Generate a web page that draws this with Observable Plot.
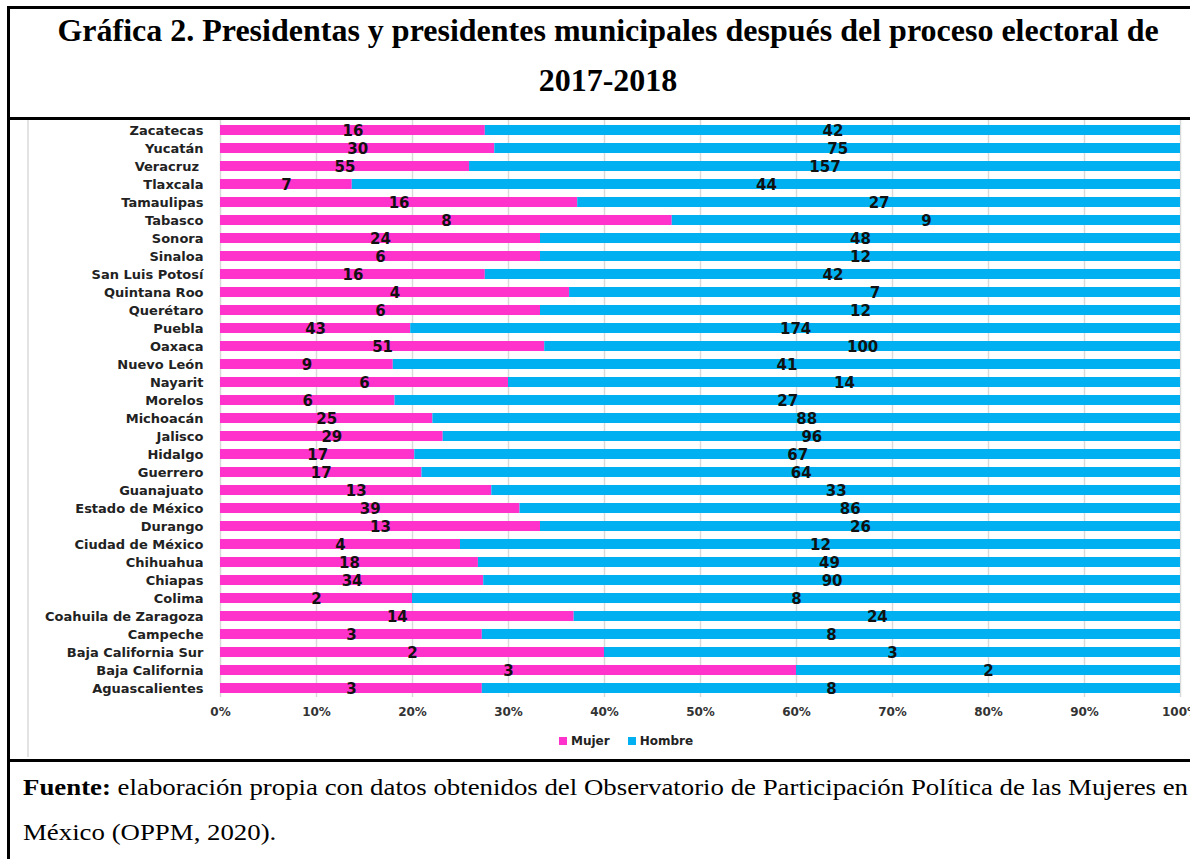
<!DOCTYPE html>
<html>
<head>
<meta charset="utf-8">
<script src="https://cdn.jsdelivr.net/npm/d3@7"></script>
<script src="https://cdn.jsdelivr.net/npm/@observablehq/plot@0.6"></script>
<style>
  html, body { margin: 0; padding: 0; background: #fff; }
  body { width: 1190px; height: 859px; overflow: hidden; position: relative; }
  .abs { position: absolute; }
  .title { left: 10px; width: 1196px; text-align: center; font-family: "Liberation Serif", "Times New Roman", serif; font-weight: bold; font-size: 32px; color: #000; line-height: 40px; white-space: nowrap; }
  .foot { left: 23px; font-family: "Liberation Serif", "Times New Roman", serif; font-size: 24px; color: #000; line-height: 30px; white-space: nowrap; transform-origin: 0 50%; }
  .legend { top: 734px; left: 559px; display: flex; align-items: center; font-family: "DejaVu Sans", sans-serif; font-weight: bold; font-size: 12px; color: #222; }
  .sw { width: 8px; height: 8px; display: inline-block; margin-right: 4px; }
  #chart svg { max-width: none !important; }
</style>
</head>
<body>
<div class="abs" style="left:7px;top:6px;width:1200px;height:3px;background:#000"></div>
<div class="abs" style="left:7px;top:6px;width:3px;height:860px;background:#000"></div>
<div class="abs" style="left:7px;top:117px;width:1200px;height:3px;background:#000"></div>
<div class="abs" style="left:7px;top:759px;width:1200px;height:3px;background:#000"></div>
<div class="abs" style="left:27px;top:120px;width:2px;height:637px;background:#e3e3e3"></div>
<div id="t1" class="abs title" style="top:10px"></div>
<div id="t2" class="abs title" style="top:60px"></div>
<div id="chart" class="abs" style="left:10px;top:120px;width:1200px"></div>
<div id="legend" class="abs legend"></div>
<div id="f1" class="abs foot" style="top:772px"></div>
<div id="f2" class="abs foot" style="top:817px"></div>
<script>
const titleLines = ["Gráfica 2. Presidentas y presidentes municipales después del proceso electoral de", "2017-2018"];
const sourceBold = "Fuente:";
const sourceLines = [" elaboración propia con datos obtenidos del Observatorio de Participación Política de las Mujeres en", "México (OPPM, 2020)."];

const states = ["Zacatecas", "Yucatán", "Veracruz\u00a0", "Tlaxcala", "Tamaulipas", "Tabasco", "Sonora", "Sinaloa", "San Luis Potosí", "Quintana Roo", "Querétaro", "Puebla", "Oaxaca", "Nuevo León", "Nayarit", "Morelos", "Michoacán", "Jalisco", "Hidalgo", "Guerrero", "Guanajuato", "Estado de México", "Durango", "Ciudad de México", "Chihuahua", "Chiapas", "Colima", "Coahuila de Zaragoza", "Campeche", "Baja California Sur", "Baja California", "Aguascalientes"];
const mujeres = [16, 30, 55, 7, 16, 8, 24, 6, 16, 4, 6, 43, 51, 9, 6, 6, 25, 29, 17, 17, 13, 39, 13, 4, 18, 34, 2, 14, 3, 2, 3, 3];
const hombres = [42, 75, 157, 44, 27, 9, 48, 12, 42, 7, 12, 174, 100, 41, 14, 27, 88, 96, 67, 64, 33, 86, 26, 12, 49, 90, 8, 24, 8, 3, 2, 8];
const series = ["Mujer", "Hombre"];
const colors = ["#ff33cc", "#00b0f0"];
const xTicks = [0, 0.1, 0.2, 0.3, 0.4, 0.5, 0.6, 0.7, 0.8, 0.9, 1];

document.getElementById("t1").textContent = titleLines[0];
document.getElementById("t2").textContent = titleLines[1];
const f1 = document.getElementById("f1");
const b = document.createElement("b"); b.textContent = sourceBold; f1.appendChild(b);
f1.appendChild(document.createTextNode(sourceLines[0]));
const f2 = document.getElementById("f2");
f2.textContent = sourceLines[1];
const fw = f1.getBoundingClientRect().width;
const sx = 1165 / fw;
f1.style.transform = `scaleX(${sx})`;
f2.style.transform = `scaleX(${sx})`;

const data = states.flatMap((s, i) => [
  {state: s, sexo: series[0], value: mujeres[i]},
  {state: s, sexo: series[1], value: hombres[i]}
]);

const chart = Plot.plot({
  width: 1200,
  height: 605,
  marginLeft: 210,
  marginRight: 30,
  marginTop: 0,
  marginBottom: 28,
  style: {fontFamily: "DejaVu Sans, sans-serif", background: "transparent", overflow: "visible", maxWidth: "none"},
  x: {domain: [0, 1]},
  y: {domain: states, paddingInner: 0.45, paddingOuter: 0.11},
  color: {domain: series, range: colors},
  marks: [
    Plot.gridX(xTicks, {stroke: "#d9d9d9", strokeOpacity: 1, strokeWidth: 1.5}),
    Plot.barX(data, Plot.stackX({x: "value", y: "state", fill: "sexo", offset: "normalize"})),
    Plot.text(data, Plot.stackX({x: "value", y: "state", text: "value", offset: "normalize", fontWeight: "bold", fontSize: 15, fill: "#111", dy: 1})),
    Plot.axisY({tickSize: 0, tickPadding: 17, fontWeight: "bold", fontSize: 13, color: "#222", label: null}),
    Plot.axisX({ticks: xTicks, tickFormat: d3.format(".0%"), tickSize: 0, tickPadding: 10, fontSize: 12, fontWeight: "bold", color: "#333", label: null})
  ]
});
document.getElementById("chart").appendChild(chart);

const lg = document.getElementById("legend");
series.forEach((s, i) => {
  const item = document.createElement("span");
  item.style.display = "inline-flex";
  item.style.alignItems = "center";
  item.style.marginRight = i === 0 ? "18px" : "0";
  const sw = document.createElement("span");
  sw.className = "sw";
  sw.style.background = colors[i];
  item.appendChild(sw);
  item.appendChild(document.createTextNode(s));
  lg.appendChild(item);
});
</script>
</body>
</html>
